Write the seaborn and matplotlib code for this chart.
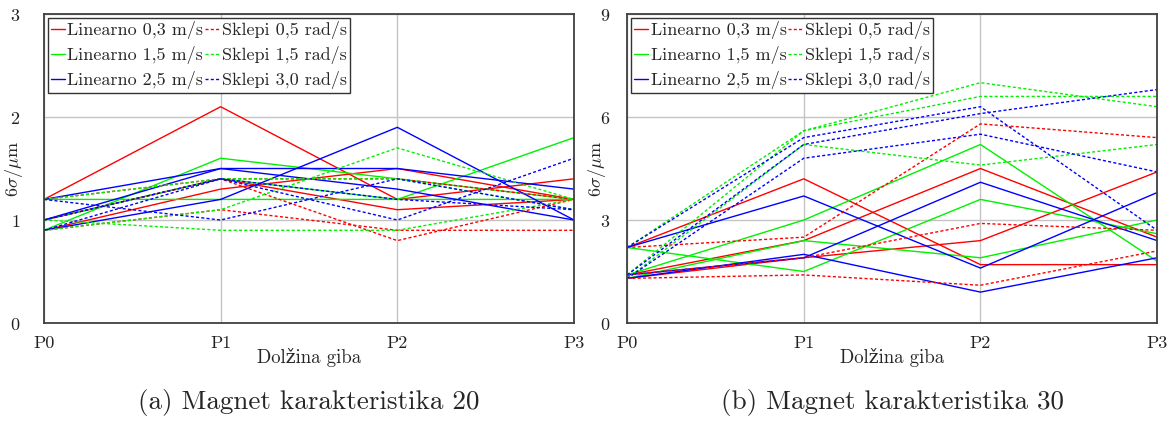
import matplotlib
matplotlib.use("Agg")
import matplotlib.pyplot as plt
import seaborn as sns
import pandas as pd
import numpy as np

positions = ["P0", "P1", "P2", "P3"]
series_names = ["Linearno 0,3 m/s", "Linearno 1,5 m/s", "Linearno 2,5 m/s",
                "Sklepi 0,5 rad/s", "Sklepi 1,5 rad/s", "Sklepi 3,0 rad/s"]
series_colors = ["#ff0000", "#00f000", "#0000ff", "#ff0000", "#00f000", "#0000ff"]

# (a) Magnet karakteristika 20 - three runs per series
lin03_a = [[1.2, 2.1, 1.2, 1.4], [0.9, 1.3, 1.5, 1.2], [1.0, 1.4, 1.1, 1.2]]
lin15_a = [[0.9, 1.6, 1.4, 1.2], [1.2, 1.2, 1.2, 1.8], [1.0, 1.4, 1.2, 1.2]]
lin25_a = [[1.2, 1.5, 1.5, 1.3], [1.0, 1.5, 1.3, 1.0], [0.9, 1.2, 1.9, 1.0]]
skl05_a = [[1.2, 1.4, 1.4, 1.2], [0.9, 1.1, 0.9, 0.9], [1.0, 1.4, 0.8, 1.2]]
skl15_a = [[0.9, 1.1, 1.7, 1.2], [1.0, 0.9, 0.9, 1.2], [1.2, 1.4, 1.4, 1.1]]
skl30_a = [[1.2, 1.0, 1.4, 1.1], [1.0, 1.4, 1.0, 1.6], [0.9, 1.4, 1.2, 1.1]]

# (b) Magnet karakteristika 30
lin03_b = [[2.2, 4.2, 1.7, 1.7], [1.4, 2.4, 4.5, 2.5], [1.3, 1.9, 2.4, 4.4]]
lin15_b = [[2.2, 1.5, 3.6, 2.6], [1.4, 3.0, 5.2, 1.8], [1.3, 2.4, 1.9, 3.0]]
lin25_b = [[2.2, 3.7, 1.6, 3.8], [1.3, 2.0, 0.9, 1.9], [1.4, 1.9, 4.1, 2.4]]
skl05_b = [[2.2, 2.5, 5.8, 5.4], [1.4, 1.9, 2.9, 2.7], [1.3, 1.4, 1.1, 2.1]]
skl15_b = [[2.2, 5.6, 7.0, 6.3], [1.4, 5.6, 6.6, 6.6], [1.3, 5.2, 4.6, 5.2]]
skl30_b = [[2.2, 5.4, 6.3, 2.7], [1.4, 5.2, 6.1, 6.8], [1.3, 4.8, 5.5, 4.4]]


def to_long(groups):
    rows = []
    for name, runs in zip(series_names, groups):
        for r, vals in enumerate(runs):
            for i, v in enumerate(vals):
                rows.append({"series": name, "run": f"{name}_{r}", "pos": i, "val": v})
    return pd.DataFrame(rows)


sns.set_theme(style="white")
plt.rcParams["font.family"] = ["cmr10", "DejaVu Serif"]
plt.rcParams["mathtext.fontset"] = "cm"
plt.rcParams["axes.formatter.use_mathtext"] = True

fig = plt.figure(figsize=(11.7, 4.25), dpi=100)
ax_a = fig.add_axes([0.0376, 0.24, 0.453, 0.727])
ax_b = fig.add_axes([0.536, 0.24, 0.453, 0.727])

palette = dict(zip(series_names, series_colors))
dashes = {n: ("" if n.startswith("Linearno") else (2.2, 1.6)) for n in series_names}

panels = [
    (ax_a, [lin03_a, lin15_a, lin25_a, skl05_a, skl15_a, skl30_a], 3, [0, 1, 2, 3], 17,
     "(a) Magnet karakteristika 20"),
    (ax_b, [lin03_b, lin15_b, lin25_b, skl05_b, skl15_b, skl30_b], 9, [0, 3, 6, 9], 12,
     "(b) Magnet karakteristika 30"),
]

for ax, groups, ymax, yticks, ypad, caption in panels:
    df = to_long(groups)
    sns.lineplot(data=df, x="pos", y="val", hue="series", style="series", units="run",
                 estimator=None, palette=palette, dashes=dashes, hue_order=series_names,
                 style_order=series_names, lw=1.0, ax=ax)
    ax.set_xlim(0, 3)
    ax.set_ylim(0, ymax)
    ax.set_xticks(range(4))
    ax.set_xticklabels(positions)
    ax.set_yticks(yticks)
    ax.grid(True, color="#c4c4c4", lw=1.0)
    ax.set_axisbelow(True)
    for s in ax.spines.values():
        s.set_color("#404040")
        s.set_linewidth(1.3)
    ax.tick_params(length=0, labelsize=13, colors="#222222")
    ax.tick_params(axis="x", pad=9)
    ax.tick_params(axis="y", pad=ypad)
    ax.set_xlabel("Dolžina giba", fontsize=13.5, labelpad=-2)
    ax.set_ylabel(r"$6\sigma/\mu$m", fontsize=13)
    ax.yaxis.set_label_coords(-0.036, 0.5)
    handles, labels = ax.get_legend_handles_labels()
    leg = ax.legend(handles, labels, ncol=2, loc="upper left", fontsize=13,
                    handlelength=0.75, handletextpad=0.15, columnspacing=0.1,
                    labelspacing=0.38, borderpad=0.2, borderaxespad=0.2,
                    fancybox=False, framealpha=1, edgecolor="#333333")
    leg.get_frame().set_linewidth(1.0)
    ax.text(0.5, -0.215, caption, transform=ax.transAxes, ha="center", va="top", fontsize=19.5)

fig.savefig("out.png", dpi=100)
